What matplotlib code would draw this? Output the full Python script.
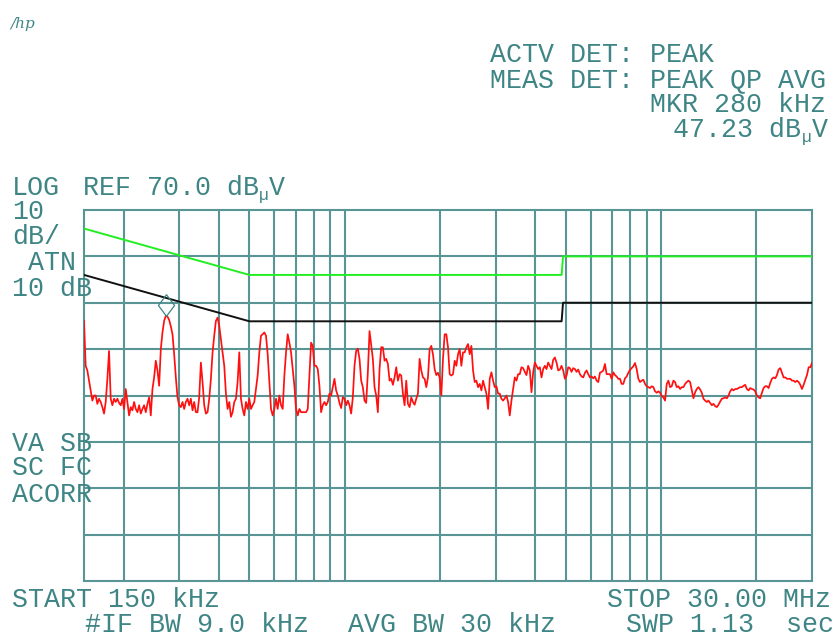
import numpy as np
import matplotlib.pyplot as plt
from matplotlib.path import Path
from matplotlib.transforms import offset_copy

W, H = 835, 638
TEAL = "#3f8585"
GRID = "#5a9595"
MONO = "Liberation Mono"

# sweep settings
start_mhz = 0.15
stop_mhz = 30.0
ref_level = 70.0
db_per_div = 10
n_div = 8

# limit lines (QP green, AVG black)
qp_limit_mhz = [0.15, 0.5, 4.85, 4.9, 30.0]
qp_limit_db = [66, 56, 56, 60, 60]
avg_limit_mhz = [0.15, 0.5, 4.85, 4.9, 30.0]
avg_limit_db = [56, 46, 46, 50, 50]

# vertical grid frequencies (MHz)
grid_mhz = [0.2, 0.3, 0.4, 0.5, 0.6, 0.7, 0.8, 0.9, 1.0,
            2, 3, 4, 5, 6, 7, 8, 9, 10, 20]

# measured trace, dBuV, one value per sweep point (log spaced)
trace_dbuv = [
    46.1, 36.4, 35.4, 33.2, 31.1, 28.9, 30, 30, 28.2, 29.3, 28.6, 27.5, 26.1, 28.6, 33.6, 39.6,
    29.3, 27.9, 29.3, 28.6, 29.3, 28.4, 27.9, 29.3, 27.1, 31.4, 28.6, 25.7, 27.5, 26.8, 28.6, 27.1,
    26.4, 27.9, 26.1, 27.1, 27.9, 26.4, 28.2, 29.6, 25.7, 31.4, 33.9, 37.5, 35.4, 32.1, 40, 43.6,
    46.1, 47.2, 47.0, 46.3, 44.9, 43.2, 38.9, 33.9, 29.6, 27.9, 27.5, 28.6, 27.1, 28.6, 29.3, 27.9,
    29.3, 26.8, 28.6, 26.4, 26.4, 29.6, 37.1, 32.9, 27.9,
    26.1, 26.4, 29.3, 33.6, 39.3, 42.9, 46.1, 46.8, 45, 42.1, 39.3, 36.4, 30.4, 27.1, 28.6, 25.4,
    26.4, 28.6, 29.3, 32.9, 39.3, 29.3, 27.1, 25.7, 28.6, 27.1, 29.3, 27.1, 27.9, 28.6, 31.4, 34.3,
    39.3, 42.9, 43.2, 43.6, 42.9, 38.9, 32.9, 27.1, 25.7, 27.1, 29.3, 27.1, 30, 27.9, 27.1, 34.3,
    39.3, 43.2, 41.4, 39.3, 35.7, 32.1, 27.1, 25.7, 27.1, 26.4, 26.4, 26.4, 26.4, 27.1, 34.3, 41.4,
    40.7, 36.4, 36.4, 35.7, 32.1, 26.4, 27.9, 28.6, 27.9, 28.6,
    30.4, 30, 31.8, 33.6, 31.1, 30, 28.4, 27.3, 29.6, 29.3, 27.9, 28.9, 27.9, 26.1, 29.6, 36.4,
    39.6, 40.1, 37.9, 33.2, 31.8, 28.9, 28.4, 35, 43.9, 40.9, 37.9, 31.8, 30, 26.4, 35.7, 40.4,
    40.4, 37.5, 37.9, 36.8, 33.2, 33.6, 32.3, 33.9, 36.1, 33.2, 34.6, 34.3, 30.4, 27.9, 33.2, 28.2,
    27.5, 29.6, 28.6, 28, 29.3, 30.4, 37.9, 35.4, 33.9, 33.6, 31.8, 33.9, 40, 40.7, 38.9, 35.7,
    34.4, 34.9, 33.9, 30, 37.9, 43.2, 43.2, 40.4, 34.6,
    34.3, 34.6, 37.5, 36.4, 38.9, 40, 36.4, 39.3, 39.3, 40.4, 41.1, 38.9, 40.7, 35.4, 32.9, 33.2,
    31.8, 32.5, 31.1, 33.2, 31.8, 30.4, 27.1, 33.6, 35, 33.2, 31.8, 32, 30.4, 30.4, 29.3, 28.9,
    29.4, 30, 28.6, 25.7, 28.9, 31.4, 33.9, 33.2, 34.6, 34.6, 36.1, 35.9, 35.1, 34.4, 36.4, 35.4,
    30.7, 35, 37.1, 36.4, 35.7, 36.1, 33.9, 35.7, 36.4, 35.7, 37.1, 36.4, 35.7, 37.7, 38.2, 37.1,
    35.4, 35.6, 36.4, 35.4, 33.6, 34.3, 36.1, 35.9, 35.1,
    35.9, 35.7, 35.1, 35.6, 34.6, 34.1, 33.9, 34.9, 35.4, 34.6, 33.9, 34.1, 33.7, 34.1, 33.2, 32.9,
    34.9, 35.1, 35.4, 36.8, 34.6, 34.6, 34.6, 33.6, 35, 34.4, 34.1, 33.6, 33.6, 32.5, 32.5, 33.7,
    34.1, 34.9, 35.5, 35.9, 36.3, 37, 35.7, 33.6, 32.9, 33.2, 33.4, 32.5, 32, 31.8, 31.6, 32,
    31.8, 30.9, 30.6, 30.9, 30.6, 29.9, 29.6, 28.9, 32.5, 33.2, 31.8, 32, 33.2, 32.9, 31.8, 32,
    31.4, 31.8, 31.8, 32.5, 32.9, 33.2, 32.9, 31.1, 29.4,
    30.7, 31.4, 31.8, 31.3, 30.6, 29.3, 28.9, 28.6, 28.9, 28.4, 27.9, 28.2, 27.7, 27.5, 28, 28.7,
    29.3, 29.4, 29.6, 29.4, 30, 30.9, 31.4, 31.1, 31.4, 31.4, 31.6, 31.8, 31.8, 32.1, 32.3, 31.4,
    31.1, 31.6, 31.4, 31.3, 30.9, 30, 29.6, 29.4, 30.6, 31.6, 32, 32, 31.6, 32.7, 33.6, 33.9,
    33.7, 34.4, 35.6, 35.9, 34.9, 33.9, 33.9, 33.6, 33.6, 33.6, 33.2, 33.2, 32.9, 33.2, 32.9, 32.3,
    31.4, 32.3, 33.4, 34.4, 36.1, 36.1, 37,
]

# sweep points are evenly spaced on the log frequency axis
trace_mhz = np.geomspace(start_mhz, stop_mhz, len(trace_dbuv))

fig = plt.figure(figsize=(W / 100, H / 100), dpi=100)
fig.patch.set_facecolor("white")
ax = fig.add_axes([84 / W, 1 - 581 / H, 728 / W, 371 / H])
ax.set_xscale("log")
ax.set_xlim(start_mhz, stop_mhz)
bottom = ref_level - n_div * db_per_div
ax.set_ylim(bottom, ref_level)

# graticule
for f in grid_mhz:
    ax.axvline(f, color=GRID, lw=1.5, zorder=1)
for k in range(1, n_div):
    ax.axhline(bottom + k * db_per_div, color=GRID, lw=1.5, zorder=1)
for s in ax.spines.values():
    s.set_color(GRID)
    s.set_linewidth(1.5)
ax.set_xticks([])
ax.set_yticks([])
ax.xaxis.set_minor_locator(plt.NullLocator())
ax.tick_params(which="both", length=0)

# limits and trace
ax.plot(qp_limit_mhz, qp_limit_db, color="#22ee22", lw=1.4, zorder=3)
ax.plot(avg_limit_mhz, avg_limit_db, color="#111111", lw=1.4, zorder=3)
ax.plot(trace_mhz, trace_dbuv, color="#ff1010", lw=1.25, zorder=4)

# marker diamond sitting on the peak
low = trace_mhz < 0.3
i_pk = int(np.argmax(np.where(low, trace_dbuv, -99)))
diamond = Path([(0, -1), (0.75, 0), (0, 1), (-0.75, 0), (0, -1)],
               [Path.MOVETO, Path.LINETO, Path.LINETO, Path.LINETO, Path.CLOSEPOLY])
tr = offset_copy(ax.transData, fig=fig, x=0, y=10.5, units="dots")
ax.plot([trace_mhz[i_pk]], [trace_dbuv[i_pk]], marker=diamond, ms=15.5,
        mfc="none", mec=TEAL, mew=0.9, transform=tr, zorder=5, clip_on=False)


def label(x, y, s, size=19.2, ha="left"):
    fig.text(x / W, 1 - y / H, s, fontsize=size, family=MONO, color=TEAL,
             ha=ha, va="baseline")


def mu(x, y):
    fig.text(x / W, 1 - y / H, "\u00b5", fontsize=11.5, family=MONO, color=TEAL,
             ha="left", va="baseline")


# logo
fig.text(10 / W, 1 - 28 / H, "/hp", fontsize=11, family="DejaVu Serif",
         style="italic", color=TEAL, ha="left", va="baseline")

# top right annotation
label(490, 62, "ACTV DET: PEAK")
label(490, 87, "MEAS DET: PEAK QP AVG")
label(826, 112, "MKR 280 kHz", ha="right")
label(673, 137, "47.23 dB")
mu(802, 142)
label(812, 137, "V")

# left annotations
label(12, 195, "LOG")
label(83, 195, "REF 70.0 dB")
mu(259, 200)
label(269, 195, "V")
label(12, 219, "10")
label(12, 244, "dB/")
label(12, 270, " ATN")
label(12, 296, "10 dB")
label(12, 451, "VA SB")
label(12, 475, "SC FC")
label(12, 502, "ACORR")

# bottom
label(12, 607, "START 150 kHz")
label(831, 607, "STOP 30.00 MHz", ha="right")
label(85, 632, "#IF BW 9.0 kHz")
label(348, 632, "AVG BW 30 kHz")
label(626, 632, "SWP 1.13  sec")

fig.savefig("out.png", dpi=100)
